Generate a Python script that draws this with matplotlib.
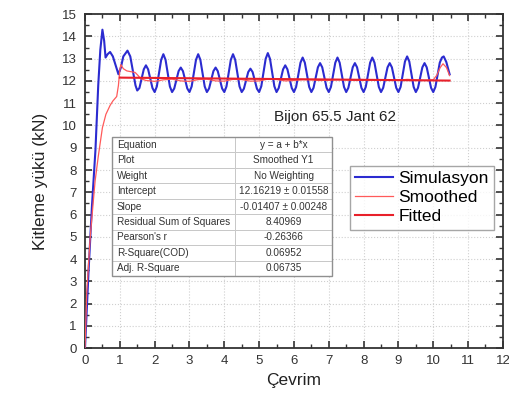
import numpy as np
import matplotlib
matplotlib.use("Agg")
import matplotlib.pyplot as plt
from matplotlib.ticker import MultipleLocator
from matplotlib.patches import Rectangle

plt.rcParams['font.family'] = ['Liberation Sans', 'DejaVu Sans']

# Simulasyon (blue) - rise and first peaks
sim_head_x = [0.0, 0.1, 0.2, 0.3, 0.38, 0.44, 0.5, 0.55, 0.59, 0.65, 0.72, 0.8,
              0.88, 0.96, 1.03, 1.1, 1.22, 1.3, 1.38, 1.45]
sim_head_y = [0.0, 3.4, 6.4, 8.9, 11.8, 13.4, 14.3, 13.8, 13.05, 13.2, 13.3, 13.1,
              12.7, 12.3, 12.6, 13.1, 13.36, 13.1, 12.4, 11.8]
# steady oscillation, sampled every 0.0625 from 1.5 to 10.25
sim_wave_y = [
    11.57,
    11.68, 12.10, 12.52, 12.70, 12.52, 12.10, 11.68, 11.50,
    11.75, 12.35, 12.95, 13.20, 12.95, 12.35, 11.75, 11.50,
    11.66, 12.05, 12.44, 12.60, 12.44, 12.05, 11.66, 11.50,
    11.75, 12.35, 12.95, 13.20, 12.95, 12.35, 11.75, 11.50,
    11.66, 12.05, 12.44, 12.60, 12.44, 12.05, 11.66, 11.50,
    11.75, 12.35, 12.95, 13.20, 12.95, 12.35, 11.75, 11.50,
    11.65, 12.03, 12.40, 12.55, 12.40, 12.03, 11.65, 11.50,
    11.76, 12.38, 12.99, 13.25, 12.99, 12.38, 11.76, 11.50,
    11.68, 12.10, 12.52, 12.70, 12.52, 12.10, 11.68, 11.50,
    11.73, 12.28, 12.82, 13.05, 12.82, 12.28, 11.73, 11.50,
    11.69, 12.15, 12.61, 12.80, 12.61, 12.15, 11.69, 11.50,
    11.73, 12.28, 12.82, 13.05, 12.82, 12.28, 11.73, 11.50,
    11.69, 12.15, 12.61, 12.80, 12.61, 12.15, 11.69, 11.50,
    11.73, 12.28, 12.82, 13.05, 12.82, 12.28, 11.73, 11.50,
    11.69, 12.15, 12.61, 12.80, 12.61, 12.15, 11.69, 11.50,
    11.73, 12.30, 12.87, 13.10, 12.87, 12.30, 11.73, 11.50,
    11.69, 12.15, 12.61, 12.80, 12.61, 12.15, 11.69, 11.50,
    11.73, 12.28, 12.82, 13.05,
]
sim_wave_x = np.linspace(1.5, 10.25, len(sim_wave_y))
sim_tail_x = [10.3, 10.375, 10.47]
sim_tail_y = [13.1, 12.85, 12.3]

# Smoothed (thin red)
smo_x = [0.0, 0.05, 0.15, 0.25, 0.29, 0.38, 0.5, 0.6, 0.72, 0.8, 0.91, 0.96, 1.0, 1.03,
         1.1, 1.2, 1.3, 1.44, 1.52, 1.6, 1.75, 2.0, 2.25, 2.5, 2.75, 3.0, 3.25, 3.5,
         3.75, 4.0, 4.25, 4.5, 4.75, 5.0, 5.25, 5.5, 5.75, 6.0, 6.25, 6.5, 6.75, 7.0,
         7.25, 7.5, 7.75, 8.0, 8.25, 8.5, 8.75, 9.0, 9.25, 9.5, 9.75, 10.0, 10.1, 10.2,
         10.28, 10.38, 10.47]
smo_y = [0.0, 2.5, 5.0, 6.8, 7.5, 8.6, 9.9, 10.5, 10.9, 11.1, 11.3, 11.8, 12.5, 12.73,
         12.55, 12.45, 12.42, 12.38, 12.25, 12.10, 12.02, 11.98, 12.05, 12.08, 12.00,
         11.98, 12.06, 12.08, 12.00, 11.99, 12.07, 12.06, 11.99, 12.00, 12.08, 12.07,
         12.00, 12.02, 12.06, 12.05, 12.02, 12.03, 12.06, 12.05, 12.02, 12.03, 12.06,
         12.04, 12.02, 12.03, 12.07, 12.05, 12.02, 12.05, 12.25, 12.60, 12.77, 12.60,
         12.24]

# Fitted line y = 12.16219 - 0.01407 x
fit_x = [1.0, 10.47]
fit_y = [12.148, 12.015]

table_rows = [
    ["Equation", "y = a + b*x"],
    ["Plot", "Smoothed Y1"],
    ["Weight", "No Weighting"],
    ["Intercept", "12.16219 \u00b1 0.01558"],
    ["Slope", "-0.01407 \u00b1 0.00248"],
    ["Residual Sum of Squares", "8.40969"],
    ["Pearson's r", "-0.26366"],
    ["R-Square(COD)", "0.06952"],
    ["Adj. R-Square", "0.06735"],
]

fig = plt.figure(figsize=(5.09, 4.03), dpi=100)
ax = fig.add_axes([0.167, 0.136, 0.821, 0.829])

ax.plot(np.concatenate([sim_head_x, sim_wave_x, sim_tail_x]),
        np.concatenate([sim_head_y, sim_wave_y, sim_tail_y]),
        color='#2b2bd0', lw=1.5, label='Simulasyon', zorder=3)
ax.plot(smo_x, smo_y, color='#ff5a5a', lw=0.9, label='Smoothed', zorder=4)
ax.plot(fit_x, fit_y, color='#e8202a', lw=1.5, label='Fitted', zorder=4)

ax.set_xlim(0, 12)
ax.set_ylim(0, 15)
ax.xaxis.set_major_locator(MultipleLocator(1))
ax.xaxis.set_minor_locator(MultipleLocator(0.5))
ax.yaxis.set_major_locator(MultipleLocator(1))
ax.yaxis.set_minor_locator(MultipleLocator(0.5))
ax.tick_params(which='both', direction='in', top=True, right=True,
               colors='#333333', labelsize=9.5)
ax.tick_params(which='major', length=5, width=1.2)
ax.tick_params(which='minor', length=3, width=1.0)
ax.tick_params(axis='x', pad=5)
ax.tick_params(axis='y', pad=6)
for s in ax.spines.values():
    s.set_linewidth(1.3)
    s.set_color('#333333')
ax.grid(True, which='major', linestyle=':', color='#cfcfcf', lw=0.8, zorder=0)
ax.set_axisbelow(True)

ax.set_xlabel("Çevrim", fontsize=12.5, color='#222222', labelpad=4)
ax.set_ylabel("Kitleme yükü (kN)", fontsize=12.5, color='#222222', labelpad=10)

ax.text(7.18, 10.36, "Bijon 65.5 Jant 62", fontsize=11, ha='center', va='center',
        color='#222222')

tb = ax.table(cellText=table_rows, colWidths=[0.295, 0.232],
              bbox=[0.064, 0.216, 0.527, 0.416], zorder=5)
tb.auto_set_font_size(False)
for (r, c), cell in tb.get_celld().items():
    cell.set_edgecolor('#c8c8c8')
    cell.set_linewidth(0.7)
    cell.set_facecolor('white')
    txt = cell.get_text()
    txt.set_fontsize(7.2)
    txt.set_color('#333333')
    if c == 0:
        txt.set_ha('left')
        cell.PAD = 0.04
    else:
        txt.set_ha('center')
ax.add_patch(Rectangle((0.064, 0.216), 0.527, 0.416, transform=ax.transAxes,
                       fill=False, edgecolor='#909090', lw=1.0, zorder=6))

leg = ax.legend(loc='upper left', bbox_to_anchor=(0.634, 0.545), fontsize=12.5,
                frameon=True, fancybox=False, edgecolor='#909090',
                handlelength=2.2, handletextpad=0.3, labelspacing=0.22,
                borderpad=0.3, borderaxespad=0)
leg.get_frame().set_linewidth(1.0)
leg.set_zorder(7)

fig.savefig("out.png", dpi=100)
